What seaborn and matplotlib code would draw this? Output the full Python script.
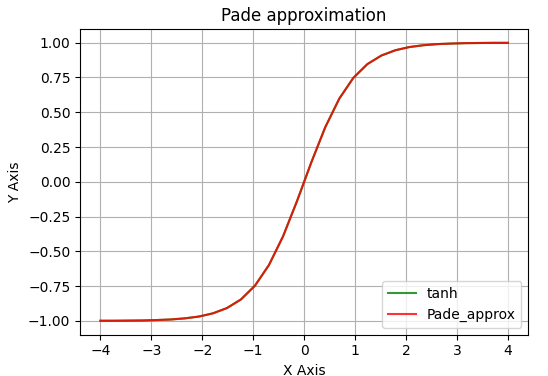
import matplotlib
matplotlib.use("Agg")
import matplotlib.pyplot as plt
import seaborn as sns

# Sample points (30 evenly spaced x values)
x_vals = [-4.000, -3.724, -3.448, -3.172, -2.897, -2.621, -2.345, -2.069, -1.793, -1.517,
          -1.241, -0.966, -0.690, -0.414, -0.138, 0.138, 0.414, 0.690, 0.966, 1.241,
          1.517, 1.793, 2.069, 2.345, 2.621, 2.897, 3.172, 3.448, 3.724, 4.000]
tanh_vals = [-0.999, -0.999, -0.998, -0.997, -0.994, -0.990, -0.982, -0.969, -0.946, -0.908,
             -0.846, -0.747, -0.598, -0.392, -0.137, 0.137, 0.392, 0.598, 0.747, 0.846,
             0.908, 0.946, 0.969, 0.982, 0.990, 0.994, 0.997, 0.998, 0.999, 0.999]
pade_vals = [-0.999, -0.999, -0.998, -0.997, -0.994, -0.990, -0.982, -0.969, -0.946, -0.908,
             -0.846, -0.747, -0.598, -0.392, -0.137, 0.137, 0.392, 0.598, 0.747, 0.846,
             0.908, 0.946, 0.969, 0.982, 0.990, 0.994, 0.997, 0.998, 0.999, 0.999]

fig = plt.figure(figsize=(5.48, 3.76), dpi=100)
ax = fig.add_axes([0.146, 0.110, 0.818, 0.813])

sns.lineplot(x=x_vals, y=tanh_vals, color='green', alpha=0.8, linewidth=1.5, label='tanh', ax=ax)
sns.lineplot(x=x_vals, y=pade_vals, color='red', alpha=0.8, linewidth=1.5, label='Pade_approx', ax=ax)

ax.grid(True)
ax.set_title('Pade approximation')
ax.set_xlabel('X Axis')
ax.set_ylabel('Y Axis')
ax.legend(loc='lower right')

fig.savefig('out.png', dpi=100)
